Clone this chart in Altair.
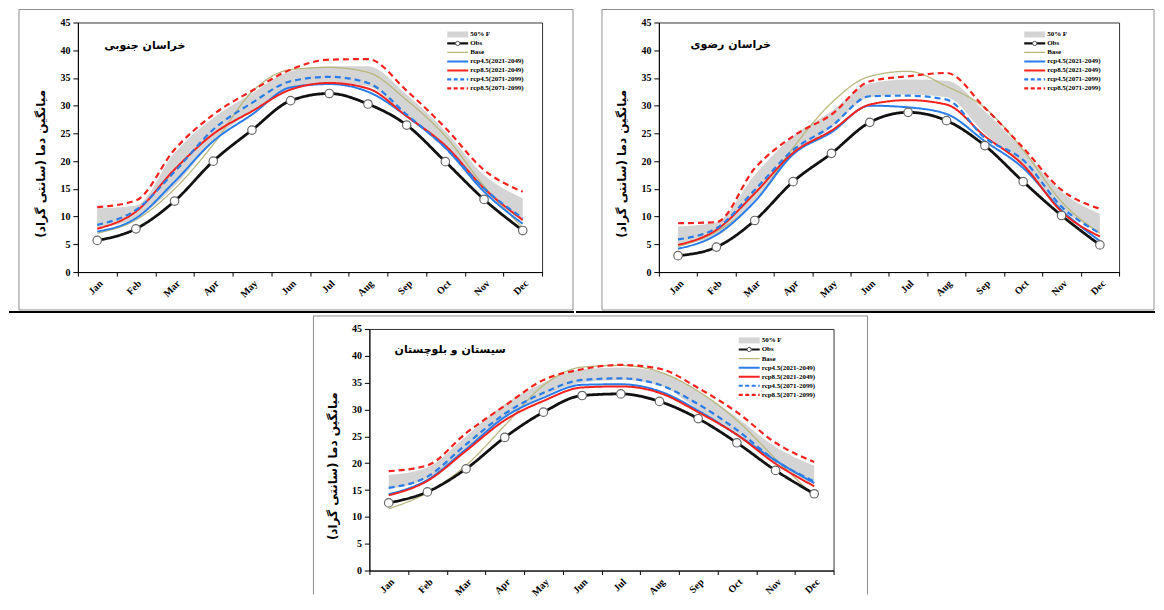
import altair as alt
import pandas as pd

months = ["Jan", "Feb", "Mar", "Apr", "May", "Jun", "Jul", "Aug", "Sep", "Oct", "Nov", "Dec"]
series = ["Obs", "Base", "rcp4.5(2021-2049)", "rcp8.5(2021-2049)", "rcp4.5(2071-2099)", "rcp8.5(2071-2099)"]
band_label = "50% F"
y_title = "میانگین دما (سانتی گراد)"

# خراسان جنوبی
sk_title = "خراسان جنوبی"
sk_obs = [5.7, 7.8, 12.8, 20.0, 25.6, 30.9, 32.2, 30.3, 26.5, 19.9, 13.1, 7.5]
sk_base = [7.0, 9.4, 15.0, 23.0, 32.5, 36.5, 36.9, 36.0, 31.0, 24.5, 15.5, 8.0]
sk_r45a = [7.3, 9.7, 16.3, 23.6, 28.4, 33.3, 33.9, 32.5, 28.1, 22.4, 14.5, 8.7]
sk_r85a = [7.8, 10.9, 18.5, 24.9, 29.0, 32.9, 34.1, 33.1, 28.1, 22.8, 15.1, 9.4]
sk_r45b = [8.5, 11.2, 18.1, 25.7, 30.5, 34.4, 35.2, 34.1, 28.4, 22.4, 15.1, 9.7]
sk_r85b = [11.7, 12.9, 22.1, 28.4, 32.7, 36.5, 38.3, 38.4, 32.7, 26.0, 18.4, 14.5]
sk_lo = [8.0, 9.7, 15.5, 23.6, 29.0, 33.0, 34.2, 33.5, 28.0, 22.4, 14.5, 9.1]
sk_hi = [11.5, 12.0, 21.5, 27.8, 32.2, 36.2, 37.1, 37.1, 32.0, 25.4, 17.5, 13.3]

# خراسان رضوی
rk_title = "خراسان رضوی"
rk_obs = [2.95, 4.5, 9.3, 16.3, 21.4, 27.0, 28.8, 27.3, 22.8, 16.3, 10.2, 4.9]
rk_base = [4.6, 7.3, 12.7, 22.4, 30.5, 35.3, 36.2, 33.5, 29.6, 22.0, 12.7, 7.0]
rk_r45a = [4.2, 6.7, 12.7, 21.2, 25.2, 30.0, 29.7, 28.5, 23.6, 18.75, 11.2, 5.6]
rk_r85a = [4.9, 7.6, 14.2, 21.5, 25.5, 30.2, 31.0, 30.2, 24.5, 19.3, 10.9, 6.4]
rk_r45b = [5.9, 7.9, 14.8, 22.0, 26.3, 31.7, 31.8, 31.1, 24.2, 20.2, 11.8, 7.0]
rk_r85b = [8.8, 9.0, 18.7, 24.5, 28.4, 34.4, 35.3, 35.9, 29.6, 22.4, 14.8, 11.4]
rk_lo = [5.0, 6.5, 13.0, 21.0, 26.0, 31.5, 32.0, 31.5, 25.0, 19.0, 11.5, 7.0]
rk_hi = [8.2, 9.0, 17.5, 24.5, 29.0, 34.0, 34.7, 34.5, 29.0, 22.0, 14.5, 10.5]

# سیستان و بلوچستان
sb_title = "سیستان و بلوچستان"
sb_obs = [12.6, 14.65, 18.95, 24.8, 29.5, 32.6, 32.9, 31.5, 28.3, 23.8, 18.65, 14.3]
sb_base = [11.5, 14.5, 19.6, 27.0, 34.5, 37.9, 38.2, 37.0, 33.4, 28.0, 20.8, 13.8]
sb_r45a = [14.2, 16.9, 22.6, 28.6, 32.2, 34.6, 34.7, 33.4, 29.8, 25.3, 20.5, 16.3]
sb_r85a = [14.0, 16.7, 22.3, 28.0, 31.6, 34.1, 34.3, 33.1, 29.5, 25.3, 19.9, 15.7]
sb_r45b = [15.4, 17.5, 23.5, 29.2, 33.1, 35.5, 35.8, 34.6, 31.0, 26.2, 20.5, 16.6]
sb_r85b = [18.5, 19.6, 25.6, 30.7, 35.5, 37.5, 38.3, 37.6, 34.0, 29.5, 23.8, 20.2]
sb_lo = [15.2, 17.2, 22.5, 28.5, 32.5, 35.0, 35.5, 34.5, 30.0, 25.5, 20.0, 16.0]
sb_hi = [17.8, 19.2, 25.0, 31.0, 35.0, 37.5, 37.8, 37.0, 33.5, 28.5, 23.0, 19.5]

SERIF = "Liberation Serif"
FA = "DejaVu Sans"
BAND = "#d4d4d4"
BLUE = "#2a7de8"
RED = "#f5221e"
styles = {
    "Base": ("#b9b77e", 1.3, [1, 0]),
    "rcp4.5(2021-2049)": (BLUE, 2.0, [1, 0]),
    "rcp8.5(2021-2049)": (RED, 2.0, [1, 0]),
    "rcp4.5(2071-2099)": (BLUE, 2.2, [6, 4]),
    "rcp8.5(2071-2099)": (RED, 2.2, [6, 4]),
    "Obs": ("#111111", 2.8, [1, 0]),
}
draw_order = ["Base", "rcp4.5(2021-2049)", "rcp8.5(2021-2049)",
              "rcp4.5(2071-2099)", "rcp8.5(2071-2099)", "Obs"]

one = pd.DataFrame({"k": [0]})


def decor_layers(decor):
    out = []
    for kind, a, b, c2, d, extra in decor:
        if kind == "rect":
            out.append(alt.Chart(one).mark_rect(fill="white", fillOpacity=0, stroke="#8e8e8e",
                                               strokeWidth=1).encode(
                x=alt.value(a), x2=alt.value(b), y=alt.value(c2), y2=alt.value(d)))
        elif kind == "hline":
            out.append(alt.Chart(one).mark_rule(color=extra.get("color", "black"),
                                               strokeWidth=extra.get("sw", 2),
                                               strokeCap="square",
                                               opacity=extra.get("op", 1)).encode(
                x=alt.value(a), x2=alt.value(b), y=alt.value(c2)))
        elif kind == "vline":
            out.append(alt.Chart(one).mark_rule(color=extra.get("color", "#8e8e8e"),
                                               strokeWidth=extra.get("sw", 1)).encode(
                x=alt.value(a), y=alt.value(c2), y2=alt.value(d)))
    return out


def make_panel(title, vals, lo, hi, w, h, title_xy, legend_range, decor):
    rows = []
    for s, v in zip(series, vals):
        for m, val in zip(months, v):
            rows.append({"month": m, "series": s, "value": val})
    df = pd.DataFrame(rows)
    band_df = pd.DataFrame({"month": months, "lo": lo, "hi": hi})

    xs = alt.Scale(type="band", domain=months, paddingInner=0, paddingOuter=0)
    x_axis = alt.Axis(labelAngle=-45, labelFont=SERIF, labelFontWeight="bold", labelFontSize=10,
                      labelColor="black", tickBand="extent", tickColor="black", tickSize=4,
                      domainColor="black", grid=False, labelPadding=2, labelOverlap=False)
    xenc = alt.X("month:N", scale=xs, bandPosition=0.5, axis=x_axis, title=None)
    ys = alt.Scale(domain=[0, 45], nice=False, zero=True)
    y_axis = alt.Axis(values=list(range(0, 50, 5)), labelFont=SERIF, labelFontWeight="bold",
                      labelFontSize=10, labelColor="black", tickColor="black", tickSize=5,
                      domainColor="black", grid=False, labelPadding=3,
                      titleFont=FA, titleFontSize=12, titleFontWeight="bold", titleColor="black",
                      titleX=-30, titleY=round(h * 0.565))

    layers = [alt.Chart(band_df).mark_area(color=BAND, interpolate="monotone").encode(
        x=xenc, y=alt.Y("lo:Q", scale=ys, axis=y_axis, title=y_title), y2="hi:Q")]
    for s in draw_order:
        c, sw, dash = styles[s]
        layers.append(alt.Chart(df[df.series == s]).mark_line(
            color=c, strokeWidth=sw, strokeDash=dash, interpolate="monotone").encode(
            x=xenc, y=alt.Y("value:Q", scale=ys, axis=y_axis, title=y_title)))
    layers.append(alt.Chart(df[df.series == "Obs"]).mark_point(
        shape="circle", filled=True, fill="white", stroke="#6a6a6a", strokeWidth=1.2,
        size=72, opacity=1).encode(x=xenc, y=alt.Y("value:Q", scale=ys, axis=y_axis, title=y_title)))

    layers += decor_layers(decor)

    layers.append(alt.Chart(one).mark_text(text=title, font=FA, fontSize=11, fontWeight="bold",
                                           color="black", align="center", baseline="middle").encode(
        x=alt.value(title_xy[0]), y=alt.value(title_xy[1])))
    main = alt.layer(*layers)

    # legend
    labels = [band_label] + series
    leg_df = pd.DataFrame({"row": list(range(len(labels))), "label": labels})
    ly = alt.Y("row:Q", scale=alt.Scale(domain=[0, len(labels) - 1], range=legend_range), axis=None)
    x0, x1, xt = w - 95, w - 74, w - 72
    leg = [alt.Chart(leg_df[leg_df.row == 0]).mark_rule(color=BAND, strokeWidth=6).encode(
        x=alt.value(x0), x2=alt.value(x1), y=ly)]
    for i, s in enumerate(series):
        c, sw, dash = styles[s]
        if s == "Obs":
            sw = 2.5
        leg.append(alt.Chart(leg_df[leg_df.row == i + 1]).mark_rule(
            color=c, strokeWidth=min(sw, 2.2), strokeDash=[4, 2.5] if dash[0] > 1 else [1, 0]).encode(
            x=alt.value(x0), x2=alt.value(x1), y=ly))
    leg.append(alt.Chart(leg_df[leg_df.row == 1]).mark_point(
        shape="circle", filled=True, fill="white", stroke="#555", strokeWidth=1, size=18,
        opacity=1).encode(x=alt.value((x0 + x1) / 2), y=ly))
    leg.append(alt.Chart(leg_df).mark_text(font=SERIF, fontSize=7, fontWeight="bold", color="black",
                                          align="left", baseline="middle").encode(
        x=alt.value(xt), y=ly, text="label:N"))
    legend = alt.layer(*leg)

    return alt.layer(main, legend).resolve_scale(y="independent").properties(width=w, height=h)


W1, H1 = 465, 250
W2, H2 = 461, 250
W3, H3 = 465, 242
WS = 233

p1 = make_panel(sk_title, [sk_obs, sk_base, sk_r45a, sk_r85a, sk_r45b, sk_r85b], sk_lo, sk_hi,
                W1, H1, (67, 24), [12, 66],
                [("rect", -59, 496, -13, 288, {}),
                 ("hline", -68, 496, 290, 0, {"sw": 2})])
p2 = make_panel(rk_title, [rk_obs, rk_base, rk_r45a, rk_r85a, rk_r45b, rk_r85b], rk_lo, rk_hi,
                W2, H2, (72, 23), [12, 66],
                [("rect", -57, 496, -13, 288, {}),
                 ("hline", -82, 496, 290, 0, {"sw": 2})])
p3 = make_panel(sb_title, [sb_obs, sb_base, sb_r45a, sb_r85a, sb_r45b, sb_r85b], sb_lo, sb_hi,
                W3, H3, (81, 21), [11.5, 66],
                [("hline", -56, 499, -13, 0, {"sw": 1, "color": "#8e8e8e"}),
                 ("vline", -56, 0, -13, H3 + 24, {}),
                 ("vline", 499, 0, -13, H3 + 24, {})])

spacer = alt.layer(*decor_layers([("hline", 0, WS, 0, 0, {"sw": 1, "op": 0})])).properties(
    width=WS, height=10, view=alt.ViewBackground(stroke="transparent", fill="transparent"))

top = alt.hconcat(p1, p2, spacing=0)
bottom = alt.hconcat(spacer, p3, spacing=0)
chart = alt.vconcat(top, bottom, spacing=0).properties(padding=0, background="white").configure_view(
    stroke="#333333", strokeWidth=1)

chart.save("out.html", embed_options={"renderer": "svg", "actions": False})
